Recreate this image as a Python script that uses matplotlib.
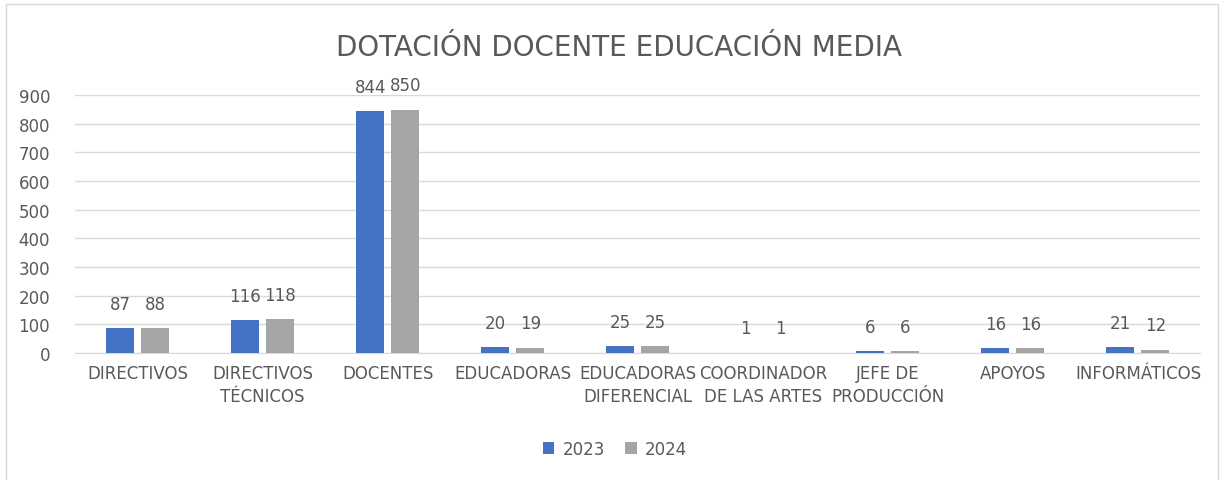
import numpy as np
import matplotlib.pyplot as plt
from matplotlib import font_manager

# Data
categories = ["DIRECTIVOS", "DIRECTIVOS\nTÉCNICOS", "DOCENTES", "EDUCADORAS",
              "EDUCADORAS\nDIFERENCIAL", "COORDINADOR\nDE LAS ARTES",
              "JEFE DE\nPRODUCCIÓN", "APOYOS", "INFORMÁTICOS"]
values_2023 = [87, 116, 844, 20, 25, 1, 6, 16, 21]
values_2024 = [88, 118, 850, 19, 25, 1, 6, 16, 12]
years = ["2023", "2024"]

names = {f.name for f in font_manager.fontManager.ttflist}
font = "Liberation Sans Narrow" if "Liberation Sans Narrow" in names else "DejaVu Sans"
plt.rcParams['font.family'] = [font, 'DejaVu Sans']

txt = "#595959"
blue = "#4472C4"
gray = "#A5A5A5"

fig = plt.figure(figsize=(12.3, 4.81), dpi=100)
ax = fig.add_axes([0.061, 0.264, 0.915, 0.536])

x = np.arange(len(categories))
w = 0.224
b1 = ax.bar(x - 0.14, values_2023, w, color=blue, label=years[0], zorder=3)
b2 = ax.bar(x + 0.14, values_2024, w, color=gray, label=years[1], zorder=3)

for bars in (b1, b2):
    for r in bars:
        ax.annotate(f"{int(r.get_height())}", (r.get_x() + r.get_width() / 2, r.get_height()),
                    xytext=(0, 11), textcoords="offset points", ha="center", va="bottom",
                    fontsize=12, color=txt)

ax.set_xlim(-0.5, len(categories) - 0.5)
ax.set_ylim(0, 900)
ax.set_yticks(np.arange(0, 901, 100))
ax.yaxis.grid(True, color="#D9D9D9", linewidth=1, zorder=0)
ax.set_xticks(x)
ax.set_xticklabels(categories, fontsize=12, color=txt, linespacing=1.35)
ax.tick_params(axis="y", labelsize=12, labelcolor=txt, length=0, pad=18)
ax.tick_params(axis="x", length=0, pad=8)
for s in ["top", "right", "left"]:
    ax.spines[s].set_visible(False)
ax.spines["bottom"].set_color("#D9D9D9")

fig.text(0.503, 0.9, "DOTACIÓN DOCENTE EDUCACIÓN MEDIA", ha="center", va="center",
         fontsize=20, color=txt)

ax.legend(loc="center", bbox_to_anchor=(0.5, 0.065), bbox_transform=fig.transFigure,
          ncol=2, frameon=False, fontsize=12, labelcolor=txt,
          handlelength=0.7, handleheight=0.7, handletextpad=0.5, columnspacing=1.2)

# chart border
fig.patches.append(plt.Rectangle((0.005, -0.1), 0.985, 1.09, transform=fig.transFigure,
                                 fill=False, edgecolor="#D9D9D9", linewidth=1))

fig.savefig("out.png", dpi=100)
